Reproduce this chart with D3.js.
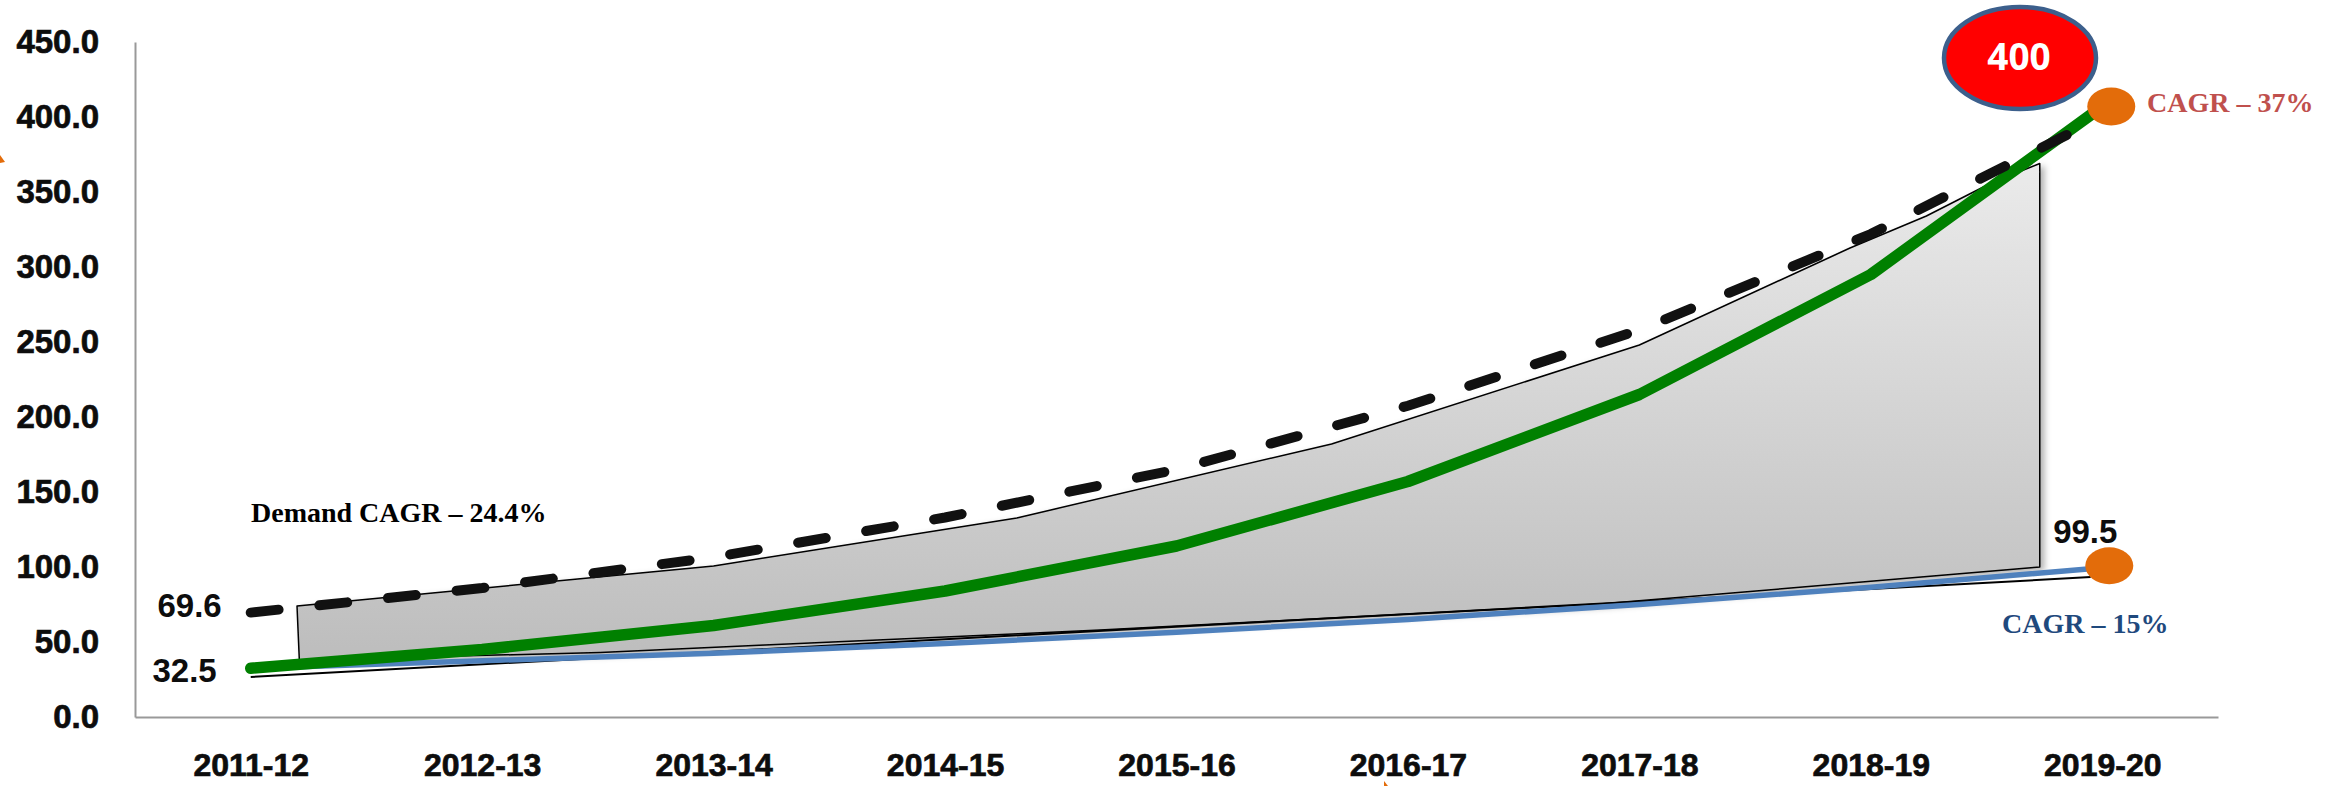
<!DOCTYPE html>
<html>
<head>
<meta charset="utf-8">
<script src="https://cdn.jsdelivr.net/npm/d3@7"></script>
<style>
  html, body { margin: 0; padding: 0; background: #fff; }
  svg { display: block; }
</style>
</head>
<body>
<div id="chart"></div>
<script>
// categories and series
const years = ['2011-12', '2012-13', '2013-14', '2014-15', '2015-16', '2016-17', '2017-18', '2018-19', '2019-20'];
const demand = [69.6, 86, 106.5, 133, 165, 207.5, 258, 322, 400];
const growth37 = [32.5, 45, 61, 84, 114, 157, 215, 295, 407];
const growth15 = [32.5, 37.5, 42.5, 49, 56.5, 65, 75, 86.5, 99.5];
const yTicks = [0, 50, 100, 150, 200, 250, 300, 350, 400, 450];

// the grey ribbon behind the lines: [category index, value]
const ribbonTop = [[0.2, 74], [2.0, 100.7], [3.31, 132.7], [4.67, 182], [6.0, 248], [6.91, 312.7], [7.24, 334], [7.52, 356], [7.73, 369]];
const ribbonBottom = [[7.73, 100], [5.83, 75.3], [3.67, 58], [1.51, 43], [0.21, 38]];
// thin black edge under the 15% line
const baseEdge = [[0, 26.7], [7.95, 93.3]];

const w = 2344;
const h = 786;

const x = d3.scalePoint().domain(years).range([135, 2218]).padding(0.5);
const y = d3.scaleLinear().domain([0, 450]).range([717, 42]);
const xi = d3.scaleLinear().domain([0, years.length - 1]).range([x(years[0]), x(years[years.length - 1])]);

const svg = d3.select('#chart').append('svg').attr('width', w).attr('height', h);

const defs = svg.append('defs');
const grad = defs.append('linearGradient')
  .attr('id', 'ribbonGrad')
  .attr('gradientUnits', 'userSpaceOnUse')
  .attr('x1', 0).attr('y1', 160).attr('x2', 0).attr('y2', 670);
grad.append('stop').attr('offset', '0%').attr('stop-color', '#ebebeb');
grad.append('stop').attr('offset', '100%').attr('stop-color', '#bcbcbc');

const shadow = defs.append('filter').attr('id', 'shadow')
  .attr('x', '-5%').attr('y', '-5%').attr('width', '110%').attr('height', '115%');
shadow.append('feDropShadow')
  .attr('dx', 4).attr('dy', 3).attr('stdDeviation', 3)
  .attr('flood-color', '#000').attr('flood-opacity', 0.3);

// axes
const yAxis = d3.axisLeft(y).tickValues(yTicks).tickFormat(d3.format('.1f')).tickSize(0).tickSizeOuter(0).tickPadding(36);
const xAxis = d3.axisBottom(x).tickSize(0).tickSizeOuter(0).tickPadding(36);

const gy = svg.append('g').attr('transform', 'translate(135,0)').call(yAxis);
const gx = svg.append('g').attr('transform', 'translate(0,717)').call(xAxis);

[gx, gy].forEach((g) => {
  g.select('.domain').attr('stroke', '#999').attr('stroke-width', 2);
  g.selectAll('text')
    .attr('font-family', '"Liberation Sans", Arial, sans-serif')
    .attr('font-weight', 'bold')
    .attr('font-size', 32)
    .attr('fill', '#0d0d0d')
    .attr('stroke', '#0d0d0d')
    .attr('stroke-width', 0.7);
});
gy.selectAll('text').attr('font-size', 33);

// grey ribbon
const pt = d3.line().x((d) => xi(d[0])).y((d) => y(d[1]));
svg.append('path')
  .attr('d', pt(ribbonTop.concat(ribbonBottom)) + 'Z')
  .attr('fill', 'url(#ribbonGrad)')
  .attr('stroke', '#000')
  .attr('stroke-width', 1.5)
  .attr('stroke-linejoin', 'round')
  .attr('filter', 'url(#shadow)');

svg.append('path')
  .attr('d', pt(baseEdge))
  .attr('fill', 'none')
  .attr('stroke', '#000')
  .attr('stroke-width', 2);

const line = d3.line().x((d, i) => x(years[i])).y((d) => y(d));

svg.append('path')
  .attr('d', line(growth15))
  .attr('fill', 'none')
  .attr('stroke', '#4f81bd')
  .attr('stroke-width', 5.5);

svg.append('path')
  .attr('d', line(growth37))
  .attr('fill', 'none')
  .attr('stroke', '#008000')
  .attr('stroke-width', 11.5)
  .attr('stroke-linecap', 'round')
  .attr('stroke-linejoin', 'round');

svg.append('path')
  .attr('d', line(demand))
  .attr('fill', 'none')
  .attr('stroke', '#111')
  .attr('stroke-width', 10)
  .attr('stroke-linecap', 'round')
  .attr('stroke-dasharray', '28 41');

// end markers
const last = years.length - 1;
svg.append('ellipse')
  .attr('cx', x(years[last]) + 9).attr('cy', y(growth37[last]))
  .attr('rx', 24).attr('ry', 19).attr('fill', '#e36c0a');
svg.append('ellipse')
  .attr('cx', x(years[last]) + 7).attr('cy', y(growth15[last]) - 2)
  .attr('rx', 24).attr('ry', 18.5).attr('fill', '#e36c0a');

// red callout
svg.append('ellipse')
  .attr('cx', 2020).attr('cy', 58)
  .attr('rx', 76).attr('ry', 51)
  .attr('fill', '#ff0000').attr('stroke', '#3c5f8c').attr('stroke-width', 4.5);
svg.append('text')
  .attr('x', 2019).attr('y', 70)
  .attr('text-anchor', 'middle')
  .attr('font-family', '"Open Sans", sans-serif')
  .attr('font-weight', 'bold')
  .attr('font-size', 37)
  .attr('fill', '#fff')
  .text('400');

// data labels
const lbl = (tx, ty, anchor, t) => svg.append('text')
  .attr('x', tx).attr('y', ty)
  .attr('text-anchor', anchor)
  .attr('font-family', '"Liberation Sans", Arial, sans-serif')
  .attr('font-weight', 'bold')
  .attr('font-size', 33)
  .attr('fill', '#0d0d0d')
  .text(t);
lbl(x(years[0]) - 29, y(demand[0]) + 4, 'end', d3.format('.1f')(demand[0]));
lbl(x(years[0]) - 34, y(growth37[0]) + 14, 'end', d3.format('.1f')(growth37[0]));
lbl(x(years[last]) - 17, y(growth15[last]) - 25, 'middle', d3.format('.1f')(growth15[last]));

// CAGR notes
const note = (tx, ty, color, t) => svg.append('text')
  .attr('x', tx).attr('y', ty)
  .attr('font-family', '"Liberation Serif", "Times New Roman", serif')
  .attr('font-weight', 'bold')
  .attr('font-size', 28)
  .attr('fill', color)
  .text(t);
note(2147, 112, '#c0504d', 'CAGR \u2013 37%');
note(2002, 633, '#1f497d', 'CAGR \u2013 15%');
note(251, 522, '#000', 'Demand CAGR \u2013 24.4%');

// small orange slivers at the picture's edges
svg.append('path').attr('d', 'M0,155 L5,162 L0,163 Z').attr('fill', '#e36c0a');
svg.append('path').attr('d', 'M1384,781 L1388,786 L1384,786 Z').attr('fill', '#e36c0a');
</script>
</body>
</html>
